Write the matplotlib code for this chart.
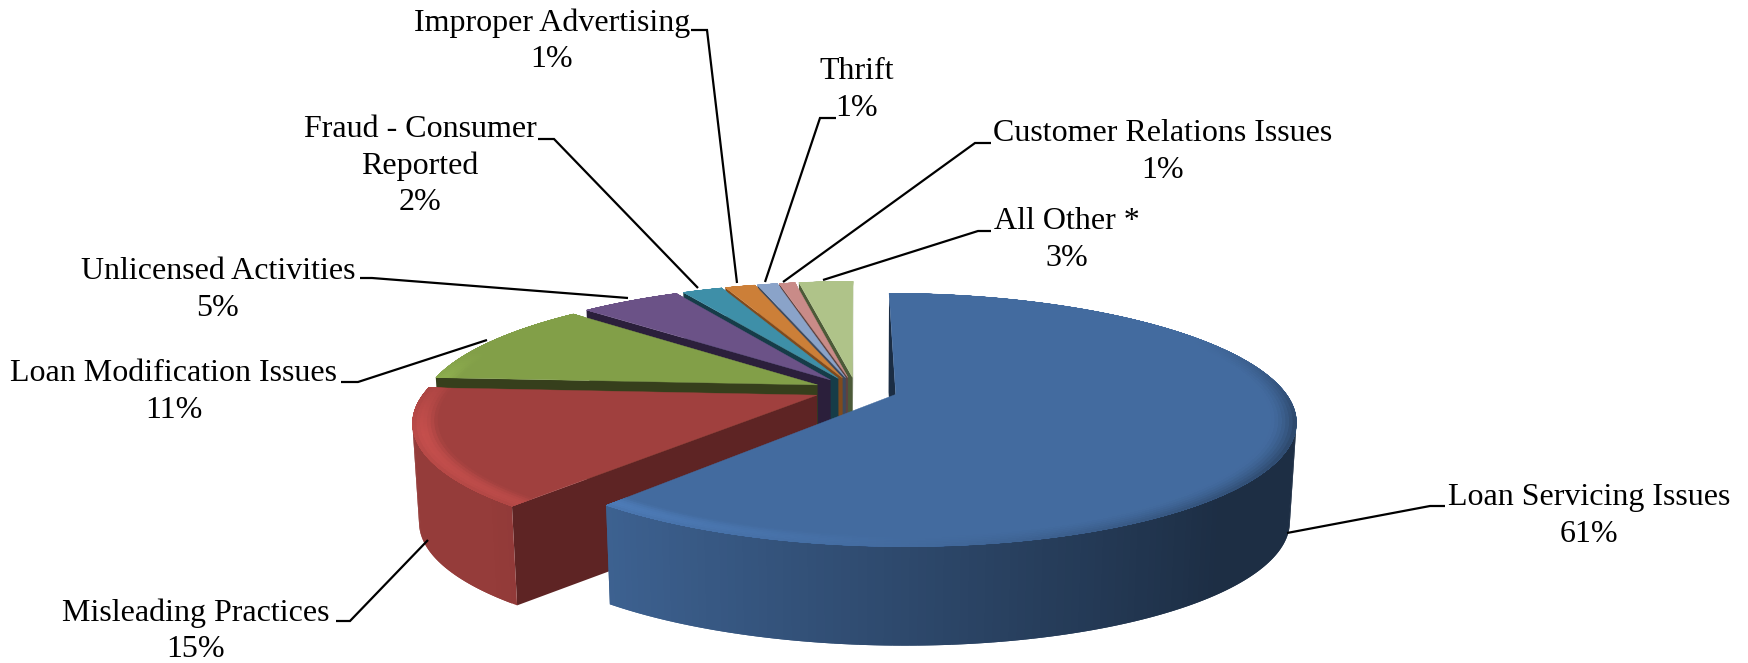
import numpy as np
import matplotlib
matplotlib.use("Agg")
import matplotlib.pyplot as plt
from matplotlib.collections import PolyCollection
from matplotlib.colors import to_rgb

# shares, the printed labels are rounded
categories = ["Loan Servicing Issues", "Misleading Practices", "Loan Modification Issues",
              "Unlicensed Activities", "Fraud - Consumer\nReported", "Improper Advertising",
              "Thrift", "Customer Relations Issues", "All Other *"]
shares = [61, 15, 11, 5, 2, 1.5, 1, 0.8, 2.7]
pct_labels = ["61%", "15%", "11%", "5%", "2%", "1%", "1%", "1%", "3%"]
top_colors = ["#436b9f", "#a0403e", "#829f48", "#6b5287", "#3e8fa8", "#cc7f38", "#8aa3c9", "#c98b88", "#afc389"]
cut_colors = ["#1b2d44", "#5e2424", "#363f1c", "#2b1f3b", "#163c48", "#7f4a1d", "#3d4a5e", "#5e4240", "#4c5a38"]

# label centre, then leader line from slice to text (pixels of the figure)
label_pos = [(1589, 516), (196, 631), (174, 392), (218, 290), (420, 166), (552, 41), (857, 90), (1163, 152), (1067, 240)]
leaders = [
    [(1287, 533), (1430, 506), (1445, 506)],
    [(428, 540), (350, 621), (336, 621)],
    [(487, 340), (358, 382), (341, 382)],
    [(628, 298), (372, 278), (360, 278)],
    [(698, 288), (554, 139), (538, 139)],
    [(737, 283), (707, 30), (691, 30)],
    [(765, 282), (820, 118), (836, 118)],
    [(783, 282), (975, 143), (991, 143)],
    [(823, 280), (978, 231), (991, 231)],
]

CX, CY = 856, 390
R, S, K = 388, 119.8, 0.2
LEFT_STRETCH = 1.008
DEPTH, SHRINK = 99, 0.015
EXPLODE = 0.108


def project(x, y, level=0):
    d = 1 + K * y
    x = np.where(x < 0, x * LEFT_STRETCH, x)
    return CX + R * (1 - SHRINK * level) * x / d, CY + DEPTH * level - S * y / d


def shade(color, f):
    c = np.array(to_rgb(color))
    return tuple(np.clip(c * f, 0, 1))


def rim_factor(theta):
    return float(np.clip(0.68 - 0.36 * np.sin(theta), 0.43, 0.93))


def bevel_factor(theta, r):
    s, c = np.sin(theta), np.cos(theta)
    t = np.clip((r - 0.94) / 0.06, 0, 1)
    light = max(0, -s) * np.clip((0.3 - c) / 0.6, 0, 1)
    dark = max(0, s) * np.clip((0.5 - c) / 0.7, 0, 1)
    return 1 + 0.24 * light * np.sin(t * np.pi * 0.8) - 0.36 * dark * t ** 1.5


fig = plt.figure(figsize=(17.48, 6.63), dpi=100)
ax = fig.add_axes([0, 0, 1, 1])
ax.set_xlim(0, 1748)
ax.set_ylim(663, 0)
ax.axis("off")

fractions = np.array(shares) / sum(shares)
ends = np.cumsum(fractions) * 2 * np.pi
starts = ends - fractions * 2 * np.pi

# back slices first, blue comes last because it sits in front
for i in list(range(len(shares) - 1, -1, -1)):
    mid = (starts[i] + ends[i]) / 2
    ox, oy = EXPLODE * np.sin(mid), EXPLODE * np.cos(mid)
    n = max(2, int(np.degrees(ends[i] - starts[i])) + 1)
    th = np.linspace(starts[i], ends[i], n)
    px = np.concatenate([[ox], ox + np.sin(th)])
    py = np.concatenate([[oy], oy + np.cos(th)])
    tops = np.column_stack(project(px, py, 0))
    bots = np.column_stack(project(px, py, 1))

    # side walls, each piece runs under the next one so no seams show
    polys, cols = [], []
    m = len(tops)
    for j in range(m):
        k = (j + 1) % m
        q = np.array([tops[j], tops[k], bots[k], bots[j]])
        area = np.sum(q[:, 0] * np.roll(q[:, 1], -1) - np.roll(q[:, 0], -1) * q[:, 1])
        if area >= 0:
            continue
        if j == 0 or k == 0:
            polys.append(q)
            cols.append(to_rgb(cut_colors[i]))
        else:
            k2 = min(j + 2, m - 1)
            polys.append(np.array([tops[j], tops[k2], bots[k2], bots[j]]))
            cols.append(shade(top_colors[i], rim_factor((th[j - 1] + th[j]) / 2)))
    if polys:
        ax.add_collection(PolyCollection(polys, facecolors=cols, edgecolors="none"))

    # flat top, then the soft bevel along the outer edge
    ax.fill(tops[:, 0], tops[:, 1], color=top_colors[i], lw=0.3)
    radii = np.linspace(0.94, 1, 8)
    band, band_cols = [], []
    for r0, r1 in zip(radii[:-1], radii[1:]):
        for j in range(len(th) - 1):
            a0, a1 = th[j], th[min(j + 2, len(th) - 1)]
            xs = ox + np.array([r0 * np.sin(a0), r0 * np.sin(a1), 1.0 * np.sin(a1), 1.0 * np.sin(a0)])
            ys = oy + np.array([r0 * np.cos(a0), r0 * np.cos(a1), 1.0 * np.cos(a1), 1.0 * np.cos(a0)])
            band.append(np.column_stack(project(xs, ys, 0)))
            band_cols.append(shade(top_colors[i], bevel_factor((th[j] + th[j + 1]) / 2, (r0 + r1) / 2)))
    ax.add_collection(PolyCollection(band, facecolors=band_cols, edgecolors="none"))

for line in leaders:
    xs, ys = zip(*line)
    ax.plot(xs, ys, color="black", lw=1.6, solid_capstyle="butt", solid_joinstyle="miter")

for name, pct, (x, y) in zip(categories, pct_labels, label_pos):
    ax.text(x, y, name + "\n" + pct, ha="center", va="center", family="Liberation Serif",
            fontsize=23, linespacing=1.33, color="black")

fig.savefig("out.png", dpi=100)
